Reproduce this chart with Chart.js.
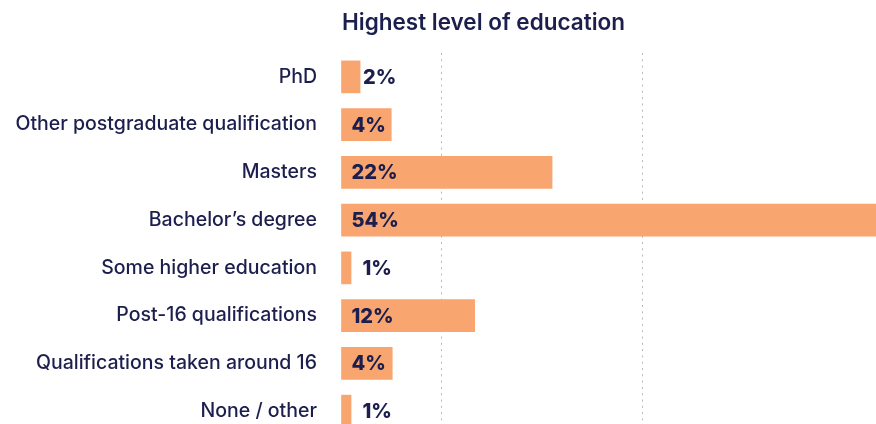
<!DOCTYPE html>
<html>
<head>
<meta charset="utf-8">
<script src="https://cdn.jsdelivr.net/npm/chart.js@4.4.1/dist/chart.umd.min.js"></script>
<style>
  html, body { margin: 0; padding: 0; background: #fff; overflow: hidden; }
  canvas { display: block; }
</style>
</head>
<body>
<canvas id="eduChart" width="876" height="435"></canvas>
<script>
// Data (bar lengths as drawn, plus the printed labels)
const categories = [
    'PhD',
    'Other postgraduate qualification',
    'Masters',
    'Bachelor\u2019s degree',
    'Some higher education',
    'Post-16 qualifications',
    'Qualifications taken around 16',
    'None / other'
];
const shares = [1.9, 5.0, 21.0, 54, 1.0, 13.3, 5.1, 1.0];
const shareLabels = ['2%', '4%', '22%', '54%', '1%', '12%', '4%', '1%'];
const chartTitle = 'Highest level of education';

const navy = '#1c1f4d';
const peach = '#f8a570';

// Title + value labels drawn on the canvas
const labelPlugin = {
    id: 'labelPlugin',
    afterDraw(chart) {
        const ctx = chart.ctx;
        const area = chart.chartArea;
        ctx.save();
        ctx.fillStyle = navy;
        ctx.font = '600 22.5px Inter';
        ctx.textAlign = 'left';
        ctx.textBaseline = 'alphabetic';
        ctx.fillText(chartTitle, area.left + 1, 30);

        ctx.font = '800 20px Inter';
        ctx.textBaseline = 'middle';
        const meta = chart.getDatasetMeta(0);
        meta.data.forEach((bar, i) => {
            const text = shareLabels[i];
            const w = ctx.measureText(text).width;
            const start = bar.base;
            const end = Math.min(bar.x, area.right);
            let x;
            if (end - start >= w + 8) {
                x = start + 10;   // fits inside the bar
            } else {
                x = Math.max(end + 3, start + 21);
            }
            ctx.fillText(text, x, bar.y + 1);
        });
        ctx.restore();
    }
};

const eduChart = new Chart(document.getElementById('eduChart'), {
    type: 'bar',
    data: {
        labels: categories,
        datasets: [{
            data: shares,
            backgroundColor: peach,
            borderWidth: 0,
            barThickness: 32
        }]
    },
    options: {
        indexAxis: 'y',
        responsive: false,
        animation: false,
        layout: { padding: { top: 53, right: 0, bottom: 0, left: 0 } },
        plugins: {
            legend: { display: false },
            tooltip: { enabled: false }
        },
        scales: {
            x: {
                min: 0,
                max: 53.23,
                ticks: { display: false, stepSize: 10 },
                border: { display: false, dash: [2, 4.3] },
                grid: {
                    drawTicks: false,
                    lineWidth: 1,
                    color: (c) => (c.tick && Math.round(c.tick.value) % 20 === 10) ? '#b8b8b8' : 'rgba(0,0,0,0)'
                },
                afterFit(scale) { scale.height = 0; }
            },
            y: {
                ticks: {
                    color: navy,
                    font: { family: 'Inter', size: 19.5, weight: '500' },
                    padding: 24
                },
                border: { display: false },
                grid: { display: false, drawTicks: false },
                afterFit(scale) {
                    scale.width = 341;
                    // the tick padding would otherwise eat into the top/bottom of the plot
                    scale.paddingTop = 0;
                    scale.paddingBottom = 0;
                }
            }
        }
    },
    plugins: [labelPlugin]
});
</script>
</body>
</html>
